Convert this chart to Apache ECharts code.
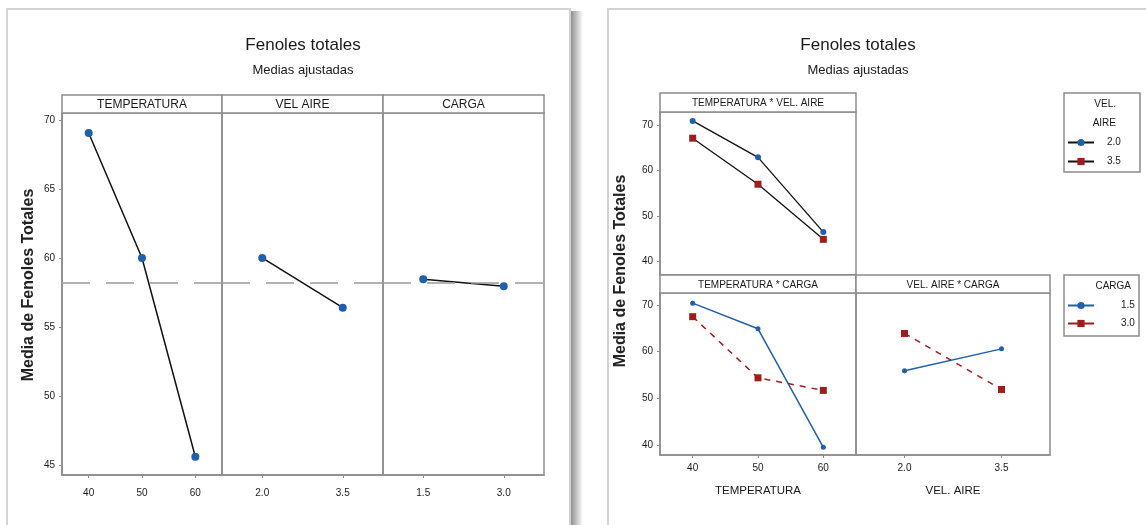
<!DOCTYPE html>
<html>
<head>
<meta charset="utf-8">
<title>Fenoles totales</title>
<script src="https://cdn.jsdelivr.net/npm/echarts@6/dist/echarts.min.js"></script>
<style>
  html, body { margin: 0; padding: 0; background: #ffffff; }
  #chart { width: 1146px; height: 525px; }
</style>
</head>
<body>
<div id="chart"></div>
<script>
// Factor levels
const tempLevels = ['40', '50', '60'];
const airLevels = ['2.0', '3.5'];
const loadLevels = ['1.5', '3.0'];

// Main effects (fitted means)
const tempMeans = [69.05, 60.0, 45.6];
const airMeans = [60.0, 56.4];
const loadMeans = [58.45, 57.95];
const grandMean = 58.2;

// Interactions (fitted means)
const tempByAir20 = [70.9, 62.9, 46.5];
const tempByAir35 = [67.1, 57.0, 44.9];
const tempByLoad15 = [70.4, 64.9, 39.5];
const tempByLoad30 = [67.5, 54.4, 51.7];
const airByLoad15 = [55.9, 60.6];
const airByLoad30 = [63.9, 51.9];

// Tick labels
const mainTicks = [45, 50, 55, 60, 65, 70];
const interTicks = [40, 50, 60, 70];

const NARROW = "'Liberation Sans Narrow','Liberation Sans','Arial',sans-serif";
const WIDE = "'Liberation Sans','Arial',sans-serif";
const BLUE = '#1f5fad';
const RED = '#a01d1d';
const FRAME = '#8c8c8c';
const TEXT = '#1a1a1a';

const chart = echarts.init(document.getElementById('chart'), null, { renderer: 'canvas' });

function grid(left, top, width, height) {
  return { left, top, width, height, show: true, borderColor: FRAME, borderWidth: 1.5, backgroundColor: 'transparent', containLabel: false };
}

function xCat(gridIndex, data, margin, name) {
  return {
    type: 'category', gridIndex, data, boundaryGap: true,
    axisLine: { show: true, lineStyle: { color: FRAME, width: 1.5 } },
    axisTick: { show: true, alignWithLabel: true, length: 3, lineStyle: { color: FRAME } },
    axisLabel: { fontFamily: NARROW, fontSize: 10, color: TEXT, margin },
    splitLine: { show: false },
    name: name || '', nameLocation: 'middle', nameGap: 30,
    nameTextStyle: { fontFamily: NARROW, fontSize: 11.5, color: TEXT }
  };
}

function yVal(gridIndex, min, max, ticks, show) {
  return {
    type: 'value', gridIndex, min, max, show,
    axisLine: { show: true, lineStyle: { color: FRAME, width: 1.5 } },
    axisTick: { show: true, length: 3, customValues: ticks, lineStyle: { color: FRAME } },
    axisLabel: { customValues: ticks, fontFamily: NARROW, fontSize: 10, color: TEXT, margin: 7 },
    splitLine: { show: false }
  };
}

const refLine = {
  silent: true, symbol: 'none', label: { show: false },
  lineStyle: { color: '#9a9a9a', type: [28, 16], width: 1.5 },
  data: [{ yAxis: grandMean }]
};

function mainSeries(idx, data) {
  return {
    type: 'line', xAxisIndex: idx, yAxisIndex: idx, data,
    symbol: 'circle', symbolSize: 8,
    itemStyle: { color: BLUE },
    lineStyle: { color: '#111', width: 1.5 },
    markLine: refLine, z: 3
  };
}

function header(x, y, w, h, text, size) {
  return [
    { type: 'rect', shape: { x, y, width: w, height: h }, style: { fill: '#fff', stroke: FRAME, lineWidth: 1.5 }, z: 1 },
    { type: 'text', x: x + w / 2, y: y + h / 2 + 1, style: { text, fontFamily: NARROW, fontSize: size, fill: TEXT, align: 'center', verticalAlign: 'middle' }, z: 2 }
  ];
}

const graphics = [
  // outer frames and shadow
  { type: 'rect', shape: { x: 571, y: 11, width: 12, height: 530 },
    style: { fill: new echarts.graphic.LinearGradient(0, 0, 1, 0, [
      { offset: 0, color: '#8f8f8f' }, { offset: 0.5, color: '#c8c8c8' }, { offset: 1, color: '#ffffff' }]) }, z: 0 },
  { type: 'rect', shape: { x: 7, y: 9, width: 563, height: 540 }, style: { fill: 'none', stroke: '#d3d3d3', lineWidth: 2 }, z: 0 },
  { type: 'rect', shape: { x: 608, y: 9, width: 560, height: 540 }, style: { fill: 'none', stroke: '#d3d3d3', lineWidth: 2 }, z: 0 },

  // titles
  { type: 'text', x: 303, y: 45, style: { text: 'Fenoles totales', fontFamily: NARROW, fontSize: 17, fill: TEXT, align: 'center', verticalAlign: 'middle' }, z: 2 },
  { type: 'text', x: 303, y: 70, style: { text: 'Medias ajustadas', fontFamily: NARROW, fontSize: 13, fill: TEXT, align: 'center', verticalAlign: 'middle' }, z: 2 },
  { type: 'text', x: 858, y: 45, style: { text: 'Fenoles totales', fontFamily: NARROW, fontSize: 17, fill: TEXT, align: 'center', verticalAlign: 'middle' }, z: 2 },
  { type: 'text', x: 858, y: 70, style: { text: 'Medias ajustadas', fontFamily: NARROW, fontSize: 13, fill: TEXT, align: 'center', verticalAlign: 'middle' }, z: 2 },

  // y-axis titles
  { type: 'text', x: 29, y: 285, rotation: Math.PI / 2, style: { text: 'Media de Fenoles Totales', fontFamily: WIDE, fontSize: 16, fontWeight: 'bold', fill: '#222', align: 'center', verticalAlign: 'middle' }, z: 2 },
  { type: 'text', x: 621, y: 271, rotation: Math.PI / 2, style: { text: 'Media de Fenoles Totales', fontFamily: WIDE, fontSize: 16, fontWeight: 'bold', fill: '#222', align: 'center', verticalAlign: 'middle' }, z: 2 },

  // panel headers
  ...header(62, 95, 160, 18, 'TEMPERATURA', 12),
  ...header(222, 95, 161, 18, 'VEL AIRE', 12),
  ...header(383, 95, 161, 18, 'CARGA', 12),
  ...header(660, 93, 196, 19, 'TEMPERATURA * VEL. AIRE', 10),
  ...header(660, 275, 196, 18, 'TEMPERATURA * CARGA', 10),
  ...header(856, 275, 194, 18, 'VEL. AIRE * CARGA', 10),

  // legend boxes and titles
  { type: 'rect', shape: { x: 1064, y: 93, width: 76, height: 79 }, style: { fill: '#fff', stroke: FRAME, lineWidth: 1.5 }, z: 1 },
  { type: 'text', x: 1116, y: 104, style: { text: 'VEL.', fontFamily: NARROW, fontSize: 10, fill: TEXT, align: 'right', verticalAlign: 'middle' }, z: 2 },
  { type: 'text', x: 1116, y: 123, style: { text: 'AIRE', fontFamily: NARROW, fontSize: 10, fill: TEXT, align: 'right', verticalAlign: 'middle' }, z: 2 },
  { type: 'rect', shape: { x: 1064, y: 275, width: 75, height: 61 }, style: { fill: '#fff', stroke: FRAME, lineWidth: 1.5 }, z: 1 },
  { type: 'text', x: 1131, y: 286, style: { text: 'CARGA', fontFamily: NARROW, fontSize: 10, fill: TEXT, align: 'right', verticalAlign: 'middle' }, z: 2 }
];

const option = {
  animation: false,
  backgroundColor: '#ffffff',
  grid: [
    grid(62, 113, 160, 362),
    grid(222, 113, 161, 362),
    grid(383, 113, 161, 362),
    grid(660, 112, 196, 163),
    grid(660, 293, 196, 162),
    grid(856, 293, 194, 162)
  ],
  xAxis: [
    xCat(0, tempLevels, 13),
    xCat(1, airLevels, 13),
    xCat(2, loadLevels, 13),
    Object.assign(xCat(3, tempLevels, 8), { axisLabel: { show: false }, axisTick: { show: false } }),
    xCat(4, tempLevels, 8, 'TEMPERATURA'),
    xCat(5, airLevels, 8, 'VEL. AIRE')
  ],
  yAxis: [
    yVal(0, 44.28, 70.5, mainTicks, true),
    yVal(1, 44.28, 70.5, mainTicks, false),
    yVal(2, 44.28, 70.5, mainTicks, false),
    yVal(3, 37.08, 72.85, interTicks, true),
    yVal(4, 37.86, 72.57, interTicks, true),
    yVal(5, 37.86, 72.57, interTicks, false)
  ],
  legend: [
    {
      data: ['2.0', '3.5'], orient: 'vertical', left: 1067, top: 137.5, padding: 0,
      itemWidth: 26, itemHeight: 9, itemGap: 9,
      textStyle: { fontFamily: NARROW, fontSize: 10, color: TEXT, padding: [0, 0, 0, 8] },
      selectedMode: false
    },
    {
      data: ['1.5', '3.0'], orient: 'vertical', left: 1067, top: 300.5, padding: 0,
      itemWidth: 26, itemHeight: 9, itemGap: 8,
      lineStyle: { type: 'solid' },
      textStyle: { fontFamily: NARROW, fontSize: 10, color: TEXT, padding: [0, 0, 0, 22] },
      selectedMode: false
    }
  ],
  series: [
    mainSeries(0, tempMeans),
    mainSeries(1, airMeans),
    mainSeries(2, loadMeans),
    { name: '2.0', type: 'line', xAxisIndex: 3, yAxisIndex: 3, data: tempByAir20,
      symbol: 'circle', symbolSize: 6, itemStyle: { color: BLUE }, lineStyle: { color: '#111', width: 1.3 } },
    { name: '3.5', type: 'line', xAxisIndex: 3, yAxisIndex: 3, data: tempByAir35,
      symbol: 'rect', symbolSize: 7, itemStyle: { color: RED }, lineStyle: { color: '#111', width: 1.3 } },
    { name: '1.5', type: 'line', xAxisIndex: 4, yAxisIndex: 4, data: tempByLoad15,
      symbol: 'circle', symbolSize: 5, itemStyle: { color: BLUE }, lineStyle: { color: BLUE, width: 1.5 } },
    { name: '3.0', type: 'line', xAxisIndex: 4, yAxisIndex: 4, data: tempByLoad30,
      symbol: 'rect', symbolSize: 7, itemStyle: { color: RED }, lineStyle: { color: RED, width: 1.5, type: [6, 6] } },
    { name: '1.5', type: 'line', xAxisIndex: 5, yAxisIndex: 5, data: airByLoad15,
      symbol: 'circle', symbolSize: 5, itemStyle: { color: BLUE }, lineStyle: { color: BLUE, width: 1.5 } },
    { name: '3.0', type: 'line', xAxisIndex: 5, yAxisIndex: 5, data: airByLoad30,
      symbol: 'rect', symbolSize: 7, itemStyle: { color: RED }, lineStyle: { color: RED, width: 1.5, type: [6, 6] } }
  ],
  graphic: graphics
};

chart.setOption(option);
</script>
</body>
</html>
